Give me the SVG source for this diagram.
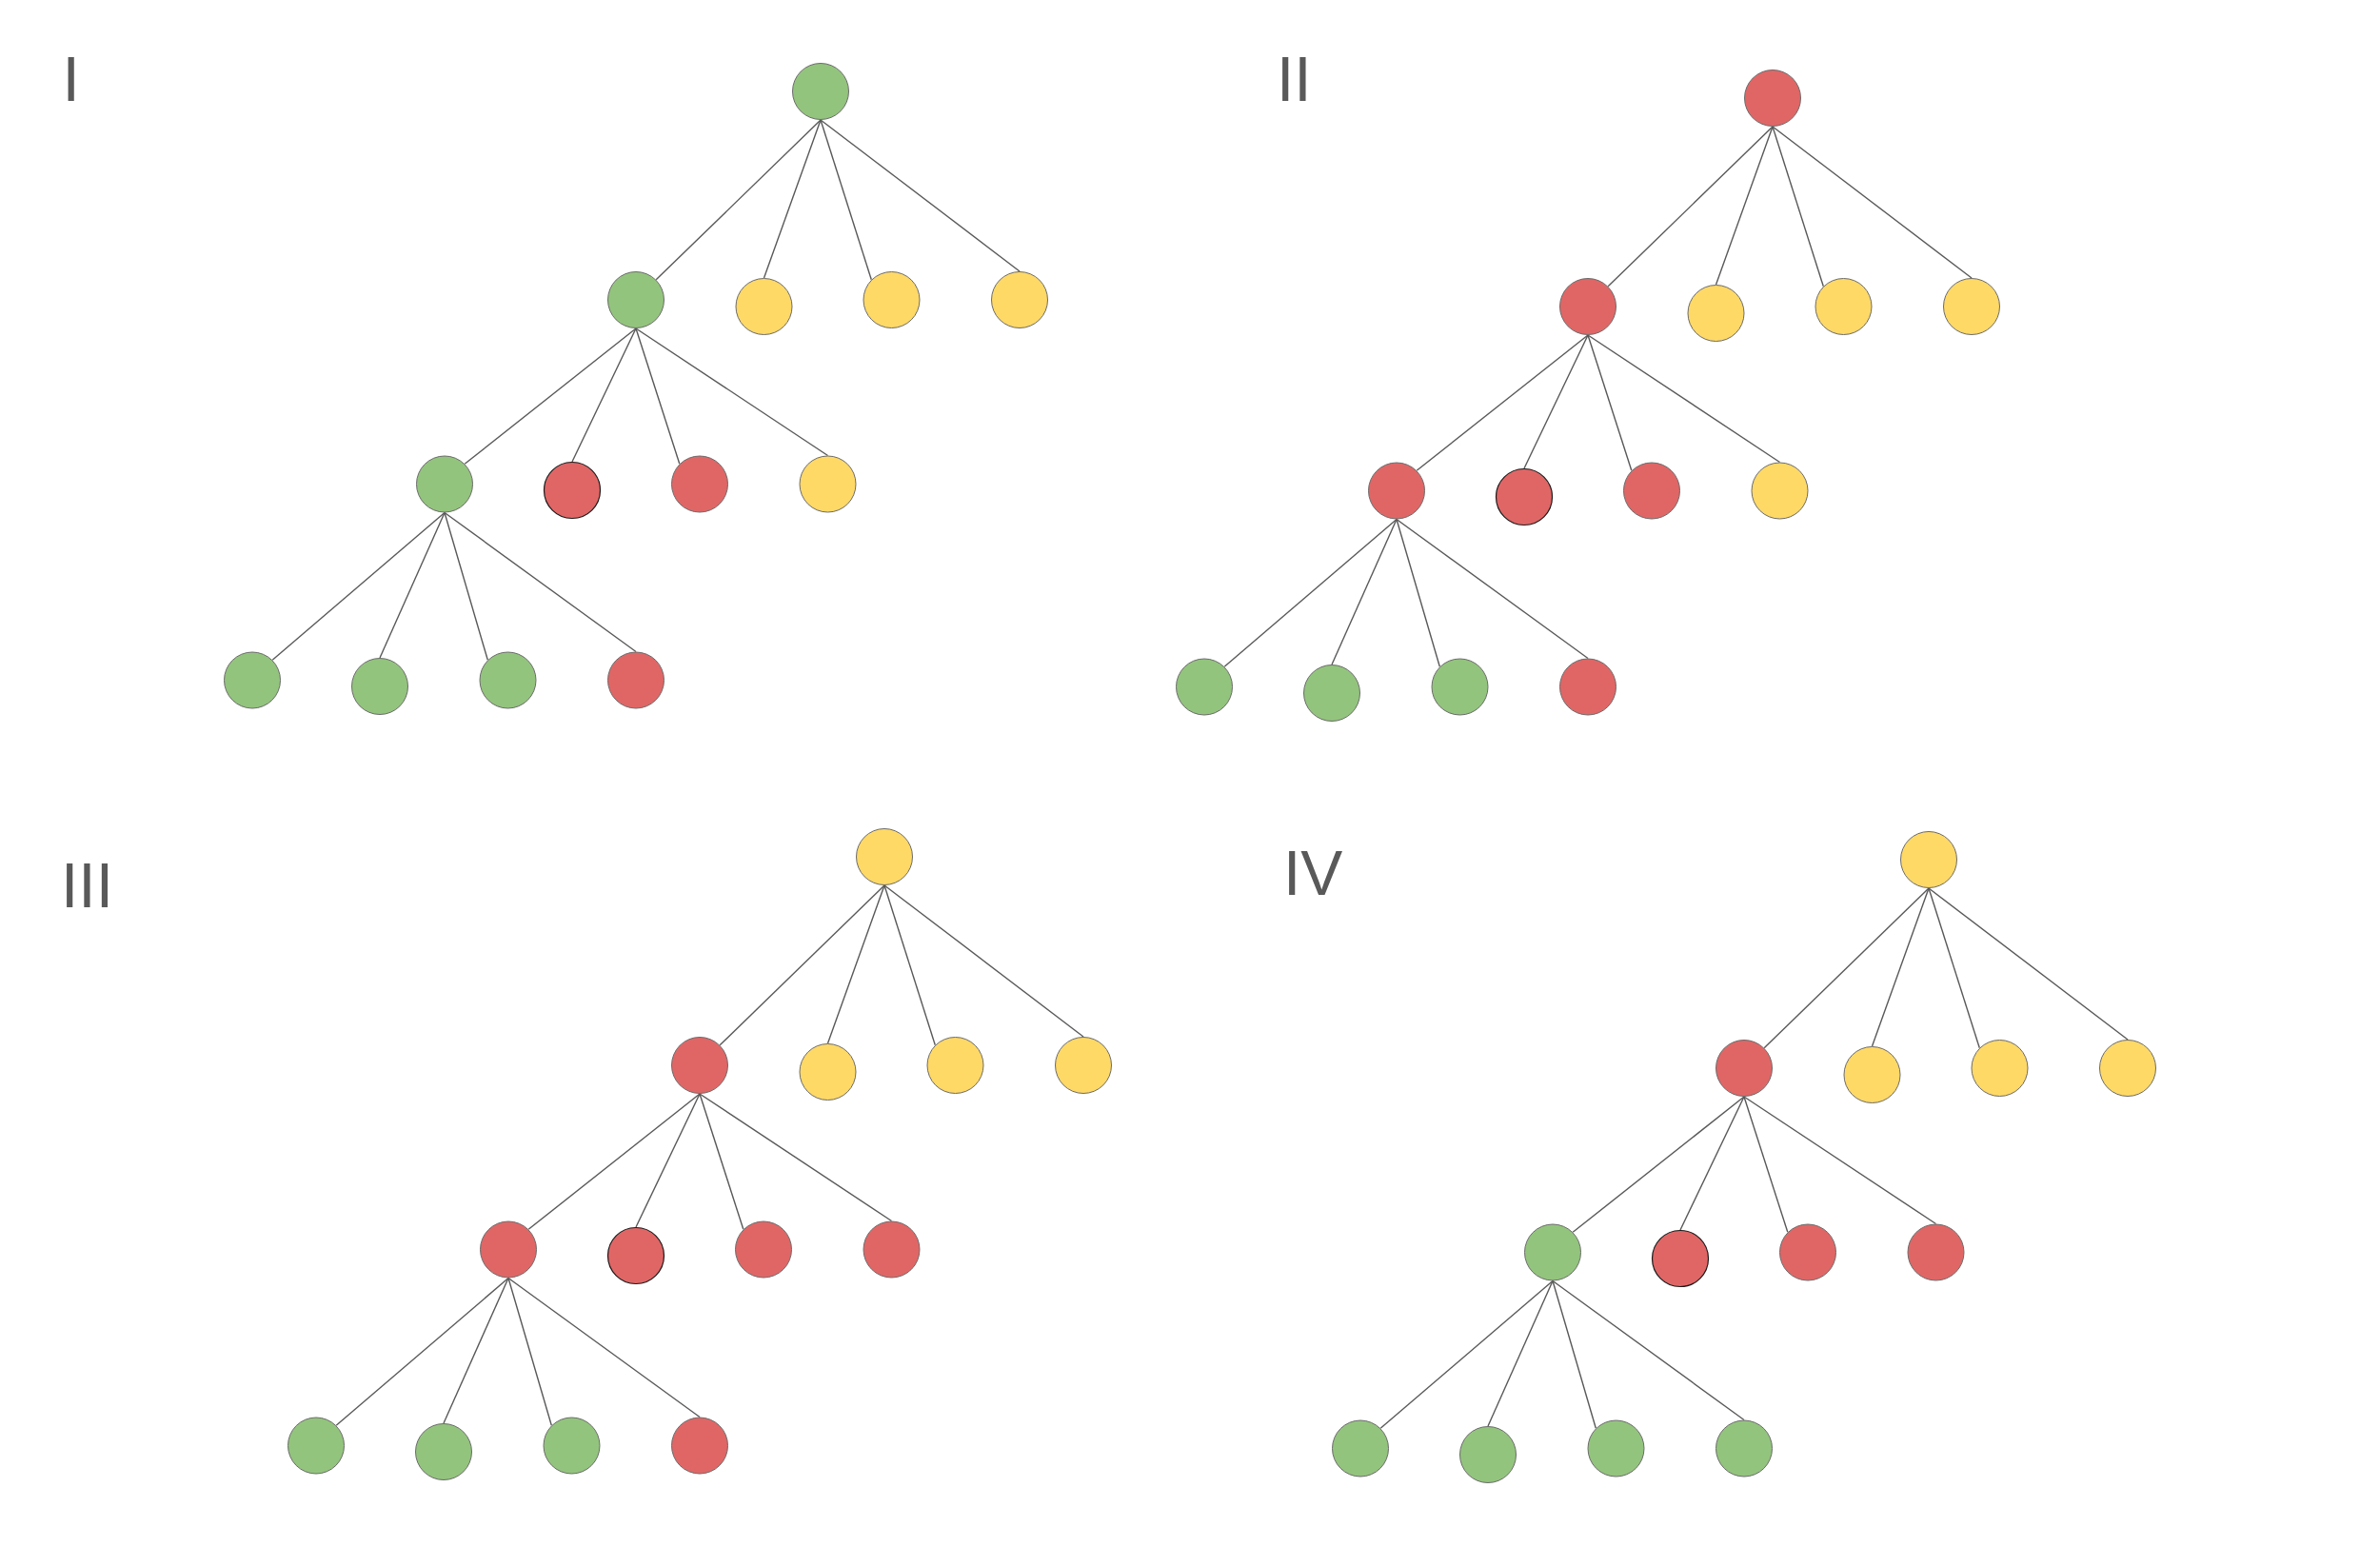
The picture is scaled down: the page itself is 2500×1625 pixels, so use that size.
<svg xmlns="http://www.w3.org/2000/svg" width="2500" height="1625" viewBox="0 0 2500 1625">
  <style>
    .edge { stroke: #595959; stroke-width: 1.4; fill: none; }
    .n { stroke: #6b6b6b; stroke-width: 1; }
    .dk { stroke: #1a1a1a; stroke-width: 1.2; }
    .g { fill: #93C47D; }
    .r { fill: #E06666; }
    .y { fill: #FFD966; }
    .lbl { font-family: "Liberation Sans", Arial, sans-serif; font-size: 66px; fill: #595959; }
  </style>
  <rect x="0" y="0" width="2500" height="1625" fill="#ffffff"/>

  <g id="labels">
    <text class="lbl" x="65.5" y="105.7">I</text>
    <text class="lbl" x="1341" y="105.6">II</text>
    <text class="lbl" x="64" y="953">III</text>
    <text class="lbl" x="1348" y="940">IV</text>
  </g>

  <g id="connectors">
    <g id="edges-I" transform="translate(0,0)">
      <line class="edge" x1="862" y1="126" x2="689.2" y2="293.8"/>
      <line class="edge" x1="862" y1="126" x2="802.5" y2="292"/>
      <line class="edge" x1="862" y1="126" x2="915.3" y2="293.8"/>
      <line class="edge" x1="862" y1="126" x2="1071" y2="285"/>
      <line class="edge" x1="668" y1="345" x2="488.2" y2="487.3"/>
      <line class="edge" x1="668" y1="345" x2="601" y2="485"/>
      <line class="edge" x1="668" y1="345" x2="713.8" y2="487.3"/>
      <line class="edge" x1="668" y1="345" x2="869.5" y2="478.5"/>
      <line class="edge" x1="467" y1="538.5" x2="286.2" y2="693.3"/>
      <line class="edge" x1="467" y1="538.5" x2="399" y2="691"/>
      <line class="edge" x1="467" y1="538.5" x2="512.3" y2="693.3"/>
      <line class="edge" x1="467" y1="538.5" x2="668" y2="684.5"/>
    </g>
    <g id="edges-II" transform="translate(1000,7)">
      <line class="edge" x1="862" y1="126" x2="689.2" y2="293.8"/>
      <line class="edge" x1="862" y1="126" x2="802.5" y2="292"/>
      <line class="edge" x1="862" y1="126" x2="915.3" y2="293.8"/>
      <line class="edge" x1="862" y1="126" x2="1071" y2="285"/>
      <line class="edge" x1="668" y1="345" x2="488.2" y2="487.3"/>
      <line class="edge" x1="668" y1="345" x2="601" y2="485"/>
      <line class="edge" x1="668" y1="345" x2="713.8" y2="487.3"/>
      <line class="edge" x1="668" y1="345" x2="869.5" y2="478.5"/>
      <line class="edge" x1="467" y1="538.5" x2="286.2" y2="693.3"/>
      <line class="edge" x1="467" y1="538.5" x2="399" y2="691"/>
      <line class="edge" x1="467" y1="538.5" x2="512.3" y2="693.3"/>
      <line class="edge" x1="467" y1="538.5" x2="668" y2="684.5"/>
    </g>
    <g id="edges-III" transform="translate(67,804)">
      <line class="edge" x1="862" y1="126" x2="689.2" y2="293.8"/>
      <line class="edge" x1="862" y1="126" x2="802.5" y2="292"/>
      <line class="edge" x1="862" y1="126" x2="915.3" y2="293.8"/>
      <line class="edge" x1="862" y1="126" x2="1071" y2="285"/>
      <line class="edge" x1="668" y1="345" x2="488.2" y2="487.3"/>
      <line class="edge" x1="668" y1="345" x2="601" y2="485"/>
      <line class="edge" x1="668" y1="345" x2="713.8" y2="487.3"/>
      <line class="edge" x1="668" y1="345" x2="869.5" y2="478.5"/>
      <line class="edge" x1="467" y1="538.5" x2="286.2" y2="693.3"/>
      <line class="edge" x1="467" y1="538.5" x2="399" y2="691"/>
      <line class="edge" x1="467" y1="538.5" x2="512.3" y2="693.3"/>
      <line class="edge" x1="467" y1="538.5" x2="668" y2="684.5"/>
    </g>
    <g id="edges-IV" transform="translate(1164,807)">
      <line class="edge" x1="862" y1="126" x2="689.2" y2="293.8"/>
      <line class="edge" x1="862" y1="126" x2="802.5" y2="292"/>
      <line class="edge" x1="862" y1="126" x2="915.3" y2="293.8"/>
      <line class="edge" x1="862" y1="126" x2="1071" y2="285"/>
      <line class="edge" x1="668" y1="345" x2="488.2" y2="487.3"/>
      <line class="edge" x1="668" y1="345" x2="601" y2="485"/>
      <line class="edge" x1="668" y1="345" x2="713.8" y2="487.3"/>
      <line class="edge" x1="668" y1="345" x2="869.5" y2="478.5"/>
      <line class="edge" x1="467" y1="538.5" x2="286.2" y2="693.3"/>
      <line class="edge" x1="467" y1="538.5" x2="399" y2="691"/>
      <line class="edge" x1="467" y1="538.5" x2="512.3" y2="693.3"/>
      <line class="edge" x1="467" y1="538.5" x2="668" y2="684.5"/>
    </g>
  </g>

  <g id="tree-I" transform="translate(0,0)">
    <g id="I-root"><circle class="n g" cx="862" cy="96" r="29.5"/></g>
    <g id="I-a"><circle class="n g" cx="668" cy="315" r="29.5"/></g>
    <g id="I-a2"><circle class="n y" cx="802.5" cy="322" r="29.5"/></g>
    <g id="I-a3"><circle class="n y" cx="936.5" cy="315" r="29.5"/></g>
    <g id="I-a4"><circle class="n y" cx="1071" cy="315" r="29.5"/></g>
    <g id="I-b"><circle class="n g" cx="467" cy="508.5" r="29.5"/></g>
    <g id="I-b2"><circle class="dk r" cx="601" cy="515" r="29.5"/></g>
    <g id="I-b3"><circle class="n r" cx="735" cy="508.5" r="29.5"/></g>
    <g id="I-b4"><circle class="n y" cx="869.5" cy="508.5" r="29.5"/></g>
    <g id="I-c1"><circle class="n g" cx="265" cy="714.5" r="29.5"/></g>
    <g id="I-c2"><circle class="n g" cx="399" cy="721" r="29.5"/></g>
    <g id="I-c3"><circle class="n g" cx="533.5" cy="714.5" r="29.5"/></g>
    <g id="I-c4"><circle class="n r" cx="668" cy="714.5" r="29.5"/></g>
  </g>

  <g id="tree-II" transform="translate(1000,7)">
    <g id="II-root"><circle class="n r" cx="862" cy="96" r="29.5"/></g>
    <g id="II-a"><circle class="n r" cx="668" cy="315" r="29.5"/></g>
    <g id="II-a2"><circle class="n y" cx="802.5" cy="322" r="29.5"/></g>
    <g id="II-a3"><circle class="n y" cx="936.5" cy="315" r="29.5"/></g>
    <g id="II-a4"><circle class="n y" cx="1071" cy="315" r="29.5"/></g>
    <g id="II-b"><circle class="n r" cx="467" cy="508.5" r="29.5"/></g>
    <g id="II-b2"><circle class="dk r" cx="601" cy="515" r="29.5"/></g>
    <g id="II-b3"><circle class="n r" cx="735" cy="508.5" r="29.5"/></g>
    <g id="II-b4"><circle class="n y" cx="869.5" cy="508.5" r="29.5"/></g>
    <g id="II-c1"><circle class="n g" cx="265" cy="714.5" r="29.5"/></g>
    <g id="II-c2"><circle class="n g" cx="399" cy="721" r="29.5"/></g>
    <g id="II-c3"><circle class="n g" cx="533.5" cy="714.5" r="29.5"/></g>
    <g id="II-c4"><circle class="n r" cx="668" cy="714.5" r="29.5"/></g>
  </g>

  <g id="tree-III" transform="translate(67,804)">
    <g id="III-root"><circle class="n y" cx="862" cy="96" r="29.5"/></g>
    <g id="III-a"><circle class="n r" cx="668" cy="315" r="29.5"/></g>
    <g id="III-a2"><circle class="n y" cx="802.5" cy="322" r="29.5"/></g>
    <g id="III-a3"><circle class="n y" cx="936.5" cy="315" r="29.5"/></g>
    <g id="III-a4"><circle class="n y" cx="1071" cy="315" r="29.5"/></g>
    <g id="III-b"><circle class="n r" cx="467" cy="508.5" r="29.5"/></g>
    <g id="III-b2"><circle class="dk r" cx="601" cy="515" r="29.5"/></g>
    <g id="III-b3"><circle class="n r" cx="735" cy="508.5" r="29.5"/></g>
    <g id="III-b4"><circle class="n r" cx="869.5" cy="508.5" r="29.5"/></g>
    <g id="III-c1"><circle class="n g" cx="265" cy="714.5" r="29.5"/></g>
    <g id="III-c2"><circle class="n g" cx="399" cy="721" r="29.5"/></g>
    <g id="III-c3"><circle class="n g" cx="533.5" cy="714.5" r="29.5"/></g>
    <g id="III-c4"><circle class="n r" cx="668" cy="714.5" r="29.5"/></g>
  </g>

  <g id="tree-IV" transform="translate(1164,807)">
    <g id="IV-root"><circle class="n y" cx="862" cy="96" r="29.5"/></g>
    <g id="IV-a"><circle class="n r" cx="668" cy="315" r="29.5"/></g>
    <g id="IV-a2"><circle class="n y" cx="802.5" cy="322" r="29.5"/></g>
    <g id="IV-a3"><circle class="n y" cx="936.5" cy="315" r="29.5"/></g>
    <g id="IV-a4"><circle class="n y" cx="1071" cy="315" r="29.5"/></g>
    <g id="IV-b"><circle class="n g" cx="467" cy="508.5" r="29.5"/></g>
    <g id="IV-b2"><circle class="dk r" cx="601" cy="515" r="29.5"/></g>
    <g id="IV-b3"><circle class="n r" cx="735" cy="508.5" r="29.5"/></g>
    <g id="IV-b4"><circle class="n r" cx="869.5" cy="508.5" r="29.5"/></g>
    <g id="IV-c1"><circle class="n g" cx="265" cy="714.5" r="29.5"/></g>
    <g id="IV-c2"><circle class="n g" cx="399" cy="721" r="29.5"/></g>
    <g id="IV-c3"><circle class="n g" cx="533.5" cy="714.5" r="29.5"/></g>
    <g id="IV-c4"><circle class="n g" cx="668" cy="714.5" r="29.5"/></g>
  </g>
</svg>
